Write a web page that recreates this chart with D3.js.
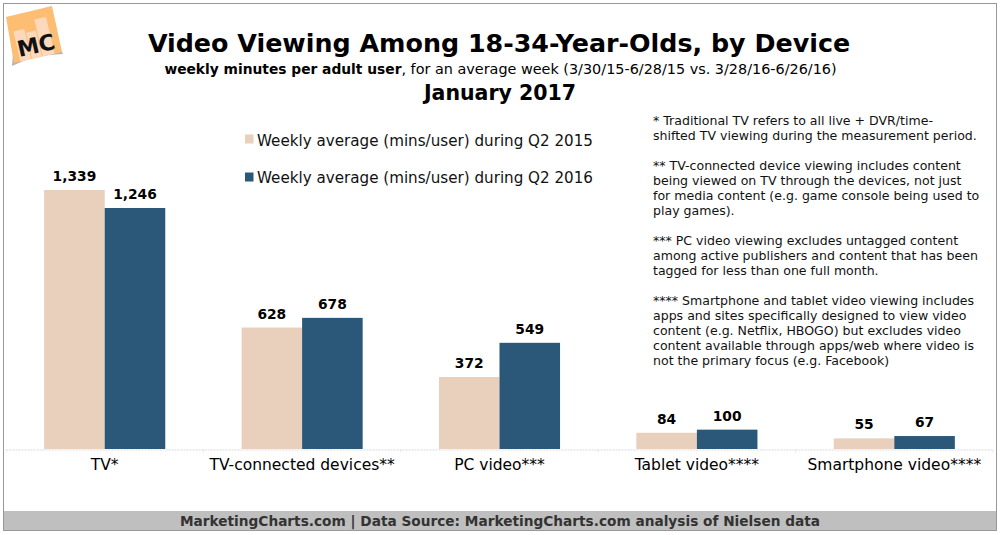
<!DOCTYPE html>
<html><head><meta charset="utf-8">
<script src="https://cdn.jsdelivr.net/npm/d3@7/dist/d3.min.js"></script>
<style>html,body{margin:0;padding:0;background:#fff}svg{display:block}text{font-family:"DejaVu Sans",Verdana,sans-serif}</style>
</head><body><svg id="c" width="1000" height="535"></svg>
<script>
const categories = ["TV*","TV-connected devices**","PC video***","Tablet video****","Smartphone video****"];
const seriesNames = ["Weekly average (mins/user) during Q2 2015","Weekly average (mins/user) during Q2 2016"];
const values2015 = [1339,628,372,84,55];
const values2016 = [1246,678,549,100,67];
const seriesColors = ["#e8d0bd","#2b5878"];
const notes = [
"* Traditional TV refers to all live + DVR/time-","shifted TV viewing during the measurement period.","",
"** TV-connected device viewing includes content","being viewed on TV through the devices, not just","for media content (e.g. game console being used to","play games).","",
"*** PC video viewing excludes untagged content","among active publishers and content that has been","tagged for less than one full month.","",
"**** Smartphone and tablet video viewing includes","apps and sites specifically designed to view video","content (e.g. Netflix, HBOGO) but excludes video","content available through apps/web where video is","not the primary focus (e.g. Facebook)"];

const svg = d3.select("#c");
svg.append("rect").attr("x",3.5).attr("y",3.5).attr("width",993).attr("height",527).attr("fill","#fff").attr("stroke","#999").attr("stroke-width",1);
svg.append("rect").attr("x",4).attr("y",511).attr("width",992).attr("height",19).attr("fill","#bfbfbf");

const x = d3.scaleBand().domain(categories).range([6,993]);
const xs = d3.scaleBand().domain([0,1]).range([0,x.bandwidth()]).paddingInner(0).paddingOuter(0.63);
const y = d3.scaleLinear().domain([0,1339]).range([449,190]);

// logo
const logo = svg.append("g");
logo.append("polygon").attr("points","12,66 14,40 62,52 63,54 35,56").attr("fill","#b5b5b5");
logo.append("polygon").attr("points","6,17 52,6 62,52 14,63").attr("fill","#fdbd73");
const logoClip = svg.append("clipPath").attr("id","lc");
logoClip.append("polygon").attr("points","6,17 52,6 62,52 14,63");
const logoBars = logo.append("g").attr("clip-path","url(#lc)").append("g").attr("transform","rotate(-13 34 36)");
[[15,27,11,50],[27,31,10,50],[38,20,12,50]].forEach(r=>logoBars.append("rect").attr("x",r[0]).attr("y",r[1]).attr("width",r[2]).attr("height",r[3]).attr("fill","#fcd9bc"));
logo.append("text").attr("x",36).attr("y",53).attr("text-anchor","middle").attr("font-size",22).attr("font-weight",700).attr("fill","#111").attr("transform","rotate(-13 36 45)").attr("textLength",38).text("MC");

// titles
svg.append("text").attr("x",499).attr("y",52).attr("text-anchor","middle").attr("font-size",25.35).attr("font-weight",700).attr("fill","#000").text("Video Viewing Among 18-34-Year-Olds, by Device");
const sub = svg.append("text").attr("x",500.5).attr("y",74).attr("text-anchor","middle").attr("fill","#000");
sub.append("tspan").attr("font-size",13.8).attr("font-weight",700).text("weekly minutes per adult user");
sub.append("tspan").attr("font-size",14.4).text(", for an average week (3/30/15-6/28/15 vs. 3/28/16-6/26/16)");
svg.append("text").attr("x",500).attr("y",100).attr("text-anchor","middle").attr("font-size",20.5).attr("font-weight",700).attr("fill","#000").text("January 2017");

// baseline + ticks
const axis = svg.append("g").attr("transform","translate(0,449.5)").call(d3.axisBottom(x).tickSize(0).tickPadding(6));
axis.select(".domain").attr("stroke","#d9d9d9").attr("stroke-dasharray","2,1");
axis.selectAll(".tick text").attr("font-size",15.5).attr("font-family",'"DejaVu Sans"').attr("fill","#000").attr("dy","0.95em");
[...x.domain().map(d=>x(d)),993].forEach(t=>axis.append("line").attr("x1",t).attr("x2",t).attr("y1",0).attr("y2",4).attr("stroke","#d9d9d9").attr("stroke-dasharray","1,1"));

// bars
[values2015,values2016].forEach((vals,i)=>{
  const g = svg.append("g");
  g.selectAll("rect").data(vals).join("rect")
    .attr("x",(d,j)=>x(categories[j])+xs(i)).attr("width",xs.bandwidth())
    .attr("y",d=>y(d)).attr("height",d=>y(0)-y(d)).attr("fill",seriesColors[i]);
  g.selectAll("text").data(vals).join("text")
    .attr("x",(d,j)=>x(categories[j])+xs(i)+xs.bandwidth()/2).attr("y",d=>y(d)-9)
    .attr("text-anchor","middle").attr("font-size",13.8).attr("font-weight",700).attr("fill","#000")
    .text(d=>d3.format(",")(d));
});

// legend
seriesNames.forEach((n,i)=>{
  const yy = 139+i*38;
  svg.append("rect").attr("x",245).attr("y",yy-4.5).attr("width",8.5).attr("height",9).attr("fill",seriesColors[i]);
  svg.append("text").attr("x",257).attr("y",145.5+i*37.5).attr("font-size",15.15).attr("fill","#111").text(n);
});

// notes
svg.append("g").selectAll("text").data(notes).join("text")
  .attr("x",653).attr("y",(d,i)=>124.5+i*15).attr("font-size",12.55).attr("fill","#111").text(d=>d);

// source
svg.append("text").attr("x",500).attr("y",526).attr("text-anchor","middle").attr("font-size",13.7).attr("font-weight",700).attr("fill","#333").text("MarketingCharts.com | Data Source: MarketingCharts.com analysis of Nielsen data");
</script></body></html>
